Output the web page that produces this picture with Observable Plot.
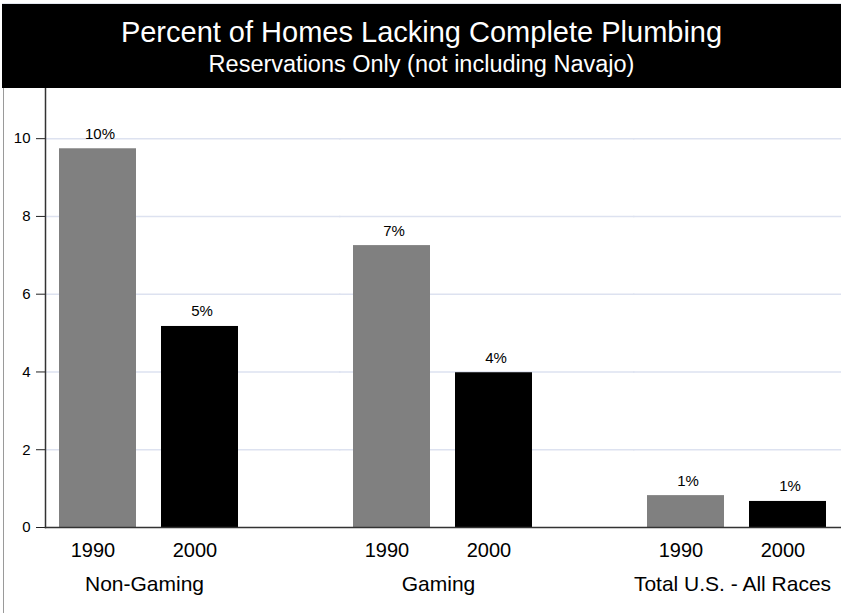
<!DOCTYPE html>
<html>
<head>
<meta charset="utf-8">
<script src="https://cdn.jsdelivr.net/npm/d3@7"></script>
<script src="https://cdn.jsdelivr.net/npm/@observablehq/plot@0.6"></script>
<style>
  html, body { margin: 0; padding: 0; background: #fff; }
  body { width: 841px; height: 613px; overflow: hidden; font-family: "Liberation Sans", Arial, sans-serif; }
  #title {
    margin: 3px 0 0 2px;
    border-top: 1px solid #e2e6ee;
    background: #000;
    color: #fff;
    height: 84px;
    text-align: center;
    box-sizing: content-box;
  }
  #title .t1 { font-size: 29px; line-height: 29px; padding-top: 13.5px; }
  #title .t2 { font-size: 23.5px; line-height: 23.5px; margin-top: 6px; }
  #chart { position: relative; height: 525px; }
  #chart::before { content: ""; position: absolute; left: 3px; top: 0; bottom: 0; border-left: 1.5px solid #9a9a9a; }
  #chart svg { display: block; font-family: "Liberation Sans", Arial, sans-serif; }
</style>
</head>
<body>
<div id="title">
  <div class="t1">Percent of Homes Lacking Complete Plumbing</div>
  <div class="t2">Reservations Only (not including Navajo)</div>
</div>
<div id="chart"></div>
<script>
const groups = ["Non-Gaming", "Gaming", "Total U.S. - All Races"];
const years = ["1990", "2000"];
const values1990 = [9.74, 7.25, 0.82];
const values2000 = [5.17, 3.98, 0.67];
const yTicks = [0, 2, 4, 6, 8, 10];
const barColors = ["#808080", "#000000"];

const data = [];
groups.forEach((g, i) => {
  data.push({group: g, year: years[0], value: values1990[i]});
  data.push({group: g, year: years[1], value: values2000[i]});
});

const W = 841, ML = 44, MR = 0;
const fxPad = 0.2937;
const fxStep = (W - ML - MR) / (groups.length - fxPad);
const facetGap = fxStep * fxPad;

const chart = Plot.plot({
  width: W,
  height: 525,
  marginLeft: ML,
  marginRight: MR,
  marginTop: 0,
  marginBottom: 86,
  style: {fontFamily: "Liberation Sans, Arial, sans-serif", color: "#000", background: "transparent", overflow: "hidden"},
  fx: {domain: groups, paddingInner: fxPad, paddingOuter: 0, label: null},
  x: {domain: years, paddingInner: 0.245, paddingOuter: 0.142, label: null},
  y: {domain: [0, 11.29], label: null},
  color: {domain: years, range: barColors},
  marks: [
    Plot.ruleY(yTicks.filter(d => d > 0), {stroke: "#dde2f0", strokeWidth: 1.5, insetRight: -facetGap - 1}),
    Plot.barY(data, {fx: "group", x: "year", y: "value", fill: "year"}),
    Plot.text(data, {fx: "group", x: "year", y: "value", text: d => Math.round(d.value) + "%", lineAnchor: "bottom", dy: -10, dx: 2, fontSize: 15, fill: "#000"}),
    Plot.axisY({ticks: yTicks, tickSize: 9, tickPadding: 6, fontSize: 15, label: null, stroke: "#222"}),
    Plot.axisX({tickSize: 0, tickPadding: 15, fontSize: 20, dx: -5, label: null}),
    Plot.axisFx({anchor: "bottom", tickSize: 0, tickPadding: 49, fontSize: 21, dx: -5, label: null}),
    Plot.frame({anchor: "left", facet: "super", stroke: "#333", strokeWidth: 1.5}),
    Plot.frame({anchor: "bottom", facet: "super", stroke: "#333", strokeWidth: 1.5})
  ]
});
document.getElementById("chart").appendChild(chart);
</script>
</body>
</html>
